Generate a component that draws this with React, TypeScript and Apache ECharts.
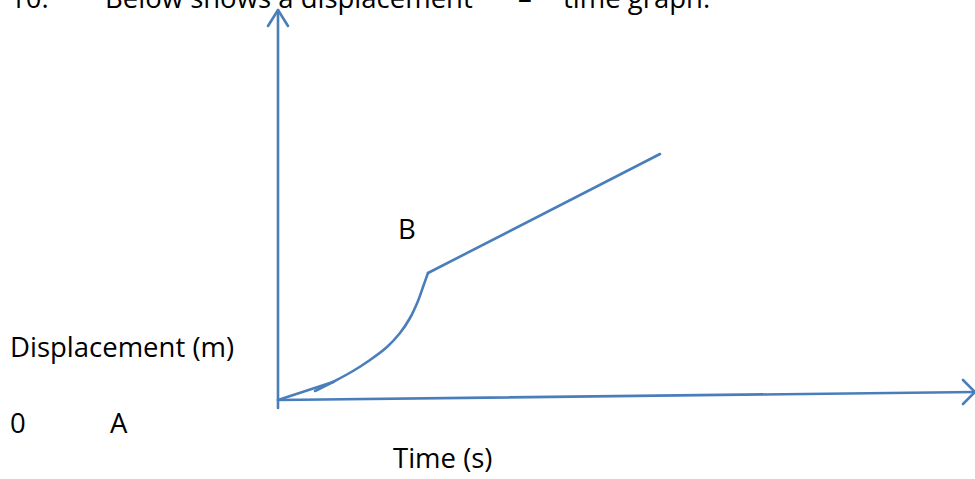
import React, { useEffect, useRef } from "react";
import * as echarts from "echarts";

// Coordinates in graph units: time along x, displacement along y (origin where the axes meet)
const yAxisLine: number[][] = [[0, -8], [0, 390]];
const yAxisArrow: number[][] = [[-10, 374], [0, 390], [10, 374]];
const xAxisLine: number[][] = [[0, 0], [697, 8]];
const xAxisArrow: number[][] = [[685, 20], [697, 8], [685, -4]];
const startSegment: number[][] = [[0, 0], [55, 18]];
const hookSegment: number[][] = [[37, 9], [55, 18]];
const curveAB: number[][] = [
  [55, 18], [75, 29], [92, 40], [109, 53], [122, 67], [132, 82], [140, 99], [145, 113], [150, 127],
];
const lineAfterB: number[][] = [[150, 127], [382, 246]];

const titleNumber = "10.";
const titleStart = "Below shows a displacement";
const titleDash = "\u2013";
const titleEnd = "time graph.";
const yLabel = "Displacement (m)";
const xLabel = "Time (s)";
const originLabel = "0";
const pointA = "A";
const pointB = "B";

const BLUE = "#4A7EBB";
const FONT_FAMILY = "'Open Sans', Lato, sans-serif";
const FS = 27.5;

export default function App() {
  const ref = useRef<HTMLDivElement>(null);
  useEffect(() => {
    if (!ref.current) return;
    const chart = echarts.init(ref.current, null, { renderer: "svg" });
    const lineSeries = (name: string, data: number[][], smooth: boolean | number = false) => ({
      name,
      type: "line",
      data,
      smooth,
      symbol: "none",
      lineStyle: { color: BLUE, width: 2.6, cap: "round", join: "round" },
      silent: true,
    });
    const off = 0.388 * FS;
    const txt = (text: string, x: number, baseline: number) => ({
      type: "text",
      x,
      y: baseline - off,
      style: {
        text,
        fill: "#000",
        font: `${FS}px ${FONT_FAMILY}`,
        textAlign: "left",
        textVerticalAlign: "middle",
      },
    });
    chart.setOption({
      animation: false,
      backgroundColor: "#ffffff",
      grid: { left: 0, right: 0, top: 0, bottom: 0, containLabel: false },
      xAxis: { type: "value", min: -278, max: 697, show: false },
      yAxis: { type: "value", min: -79, max: 400, show: false },
      series: [
        lineSeries("yAxis", yAxisLine),
        lineSeries("yArrow", yAxisArrow),
        lineSeries("xAxis", xAxisLine),
        lineSeries("xArrow", xAxisArrow),
        lineSeries("start", startSegment),
        lineSeries("hook", hookSegment),
        lineSeries("curve", curveAB, 0.3),
        lineSeries("after", lineAfterB),
      ],
      graphic: [
        txt(titleNumber, 10, 8),
        txt(titleStart, 105, 8),
        txt(titleDash, 518, 8),
        txt(titleEnd, 563, 8),
        txt(yLabel, 10, 357),
        txt(originLabel, 10, 433),
        txt(pointA, 110, 433),
        txt(pointB, 398, 239),
        txt(xLabel, 393, 468),
      ],
    });
    return () => chart.dispose();
  }, []);
  return (
    <div
      ref={ref}
      style={{ position: "fixed", left: 0, top: 0, width: 975, height: 479, background: "#fff" }}
    />
  );
}
